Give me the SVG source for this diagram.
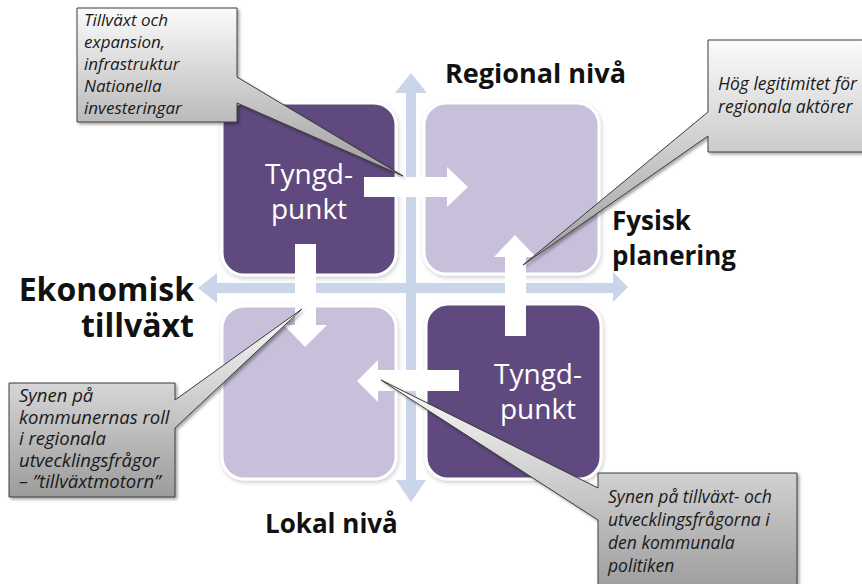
<svg xmlns="http://www.w3.org/2000/svg" width="862" height="584" viewBox="0 0 862 584">
<defs>
  <linearGradient id="cg" x1="0" y1="0" x2="0" y2="1">
    <stop offset="0" stop-color="#fbfbfb"/>
    <stop offset="1" stop-color="#9c9c9c"/>
  </linearGradient>
  <filter id="sh" x="-10%" y="-10%" width="130%" height="130%">
    <feDropShadow dx="2" dy="2" stdDeviation="1.5" flood-color="#000" flood-opacity="0.35"/>
  </filter>
  <filter id="bsh" x="-10%" y="-10%" width="130%" height="130%">
    <feDropShadow dx="1" dy="2" stdDeviation="2" flood-color="#000" flood-opacity="0.2"/>
  </filter>
</defs>
<style>
  .axis { fill: #c9d5e8; }
  .dark { fill: #5f4a7e; stroke: #ffffff; stroke-width: 3; filter: url(#bsh); }
  .light { fill: #c8bfdb; stroke: #ffffff; stroke-width: 3; filter: url(#bsh); }
  .warrow { fill: #ffffff; }
  .callout { fill: url(#cg); stroke: #3c3c3c; stroke-width: 1; filter: url(#sh); }
  .ct { font-family: "Open Sans", "Liberation Sans", sans-serif; font-style: italic; font-size: 17.5px; fill: #1a1a1a; }
  .ct1 { font-size: 17px; }
  .ct3 { font-size: 18.5px; }
  .lbl { font-family: "Open Sans", "Liberation Sans", sans-serif; font-weight: bold; font-size: 26px; fill: #111111; }
  .big { font-size: 32px; }
  .reg { font-size: 27px; }
  .ty { font-family: "Open Sans", "Liberation Sans", sans-serif; font-size: 28px; fill: #ffffff; text-anchor: middle; }
</style>
<rect width="862" height="584" fill="#ffffff"/>

<g id="connectors">
  <path class="axis" d="M411,73 L427,93 L416,93 L416,480 L426,480 L411,502 L396,480 L406,480 L406,93 L395,93 Z"/>
  <path class="axis" d="M198,288 L217,273 L217,283 L613,283 L613,272 L628,287 L613,302 L613,293 L217,293 L217,303 Z"/>
</g>

<g id="q-topleft"><rect class="dark" x="222" y="103" width="174" height="172" rx="22"/></g>
<g id="q-topright"><rect class="light" x="424" y="103" width="175" height="171" rx="22"/></g>
<g id="q-bottomleft"><rect class="light" x="222" y="306" width="174" height="173" rx="22"/></g>
<g id="q-bottomright"><rect class="dark" x="426" y="304" width="175" height="175" rx="22"/></g>

<g id="white-arrows">
  <path class="warrow" d="M364,177 L447,177 L447,167 L468,187 L447,207 L447,197 L364,197 Z"/>
  <path class="warrow" d="M295,244 L316,244 L316,325 L327,325 L305,347 L284,325 L295,325 Z"/>
  <path class="warrow" d="M505,336 L505,257 L494,257 L515,235 L536,257 L526,257 L526,336 Z"/>
  <path class="warrow" d="M459,370 L378,370 L378,360 L357,381 L378,402 L378,391 L459,391 Z"/>
</g>

<g id="tyngd-1"><text class="ty" x="309" y="184">Tyngd-</text><text class="ty" x="309" y="219">punkt</text></g>
<g id="tyngd-2"><text class="ty" x="538" y="384">Tyngd-</text><text class="ty" x="538" y="419">punkt</text></g>

<g id="label-regional"><text class="lbl reg" x="445" y="83">Regional nivå</text></g>
<g id="label-fysisk"><text class="lbl" x="612" y="230">Fysisk</text><text class="lbl" x="612" y="265">planering</text></g>
<g id="label-ekonomisk"><text class="lbl big" x="194" y="301" text-anchor="end">Ekonomisk</text><text class="lbl big" x="194" y="337" text-anchor="end">tillväxt</text></g>
<g id="label-lokal"><text class="lbl" x="265" y="533">Lokal nivå</text></g>

<g id="callout-1">
  <path class="callout" d="M77,8 H237 V77 L403,176 L237,103 V122 H77 Z"/>
  <text class="ct ct1" x="84" y="26">Tillväxt och</text>
  <text class="ct ct1" x="84" y="48">expansion,</text>
  <text class="ct ct1" x="84" y="70">infrastruktur</text>
  <text class="ct ct1" x="84" y="92">Nationella</text>
  <text class="ct ct1" x="84" y="114">investeringar</text>
</g>
<g id="callout-2">
  <path class="callout" d="M708,40 H868 V152 H708 V136 L523,265 L708,112 Z"/>
  <text class="ct" x="718" y="90">Hög legitimitet för</text>
  <text class="ct" x="718" y="113">regionala aktörer</text>
</g>
<g id="callout-3">
  <path class="callout" d="M9,383 H175 V400 L302,309 L175,428 V497 H9 Z"/>
  <text class="ct ct3" x="19" y="402">Synen på</text>
  <text class="ct ct3" x="19" y="424">kommunernas roll</text>
  <text class="ct ct3" x="19" y="445">i regionala</text>
  <text class="ct ct3" x="19" y="467">utvecklingsfrågor</text>
  <text class="ct ct3" x="19" y="488">– ”tillväxtmotorn”</text>
</g>
<g id="callout-4">
  <path class="callout" d="M598,473 H797 V592 H598 V520 L381,380 L598,488 Z"/>
  <text class="ct" x="608" y="503">Synen på tillväxt- och</text>
  <text class="ct" x="608" y="526">utvecklingsfrågorna i</text>
  <text class="ct" x="608" y="549">den kommunala</text>
  <text class="ct" x="608" y="572">politiken</text>
</g>
</svg>
